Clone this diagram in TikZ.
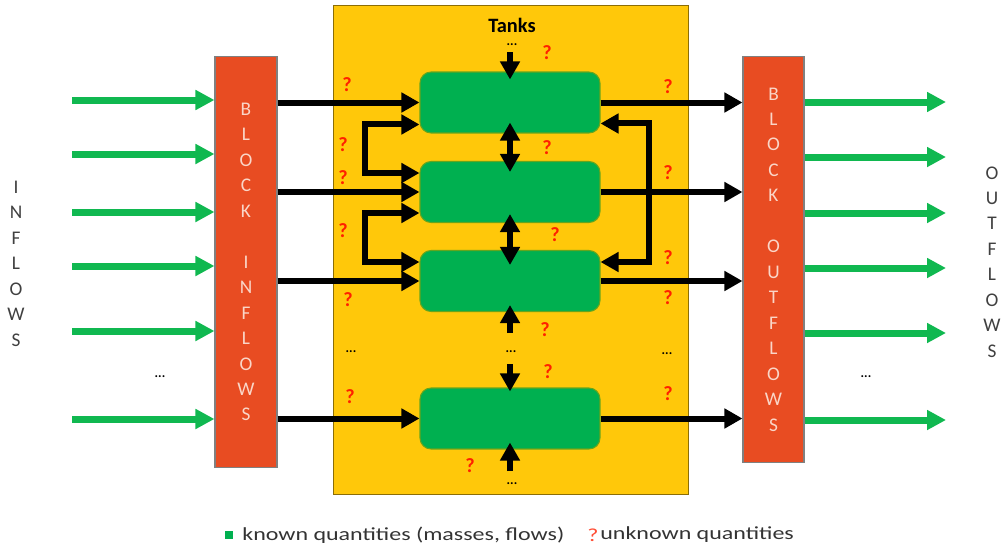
\documentclass[tikz,border=0pt]{standalone}
\usepackage{fontspec}
\setmainfont{Carlito}
\newfontfamily\legendfont[FakeStretch=1.3]{Carlito}
\usetikzlibrary{arrows.meta}
\definecolor{tankyellow}{RGB}{255,200,10}
\definecolor{tankgreen}{RGB}{0,176,80}
\definecolor{flowgreen}{RGB}{16,184,80}
\definecolor{blockred}{RGB}{232,76,34}
\definecolor{blocktext}{RGB}{250,214,200}
\definecolor{unkred}{RGB}{255,32,0}
\definecolor{sidegray}{RGB}{64,64,64}

\begin{document}
\begin{tikzpicture}[x=0.02cm, y=-0.02cm,
  area/.style={draw=black!45!tankyellow, line width=0.6pt, fill=tankyellow, minimum width=7.12cm, minimum height=9.8cm, inner sep=0},
  tank/.style={draw=black!40!tankgreen!60!yellow, line width=0.6pt, fill=tankgreen, rounded corners=0.22cm, minimum width=3.6cm, minimum height=1.22cm},
  block/.style={draw=gray, line width=0.6pt, fill=blockred, text=blocktext, align=center, inner sep=0, font=\fontsize{11}{14.5}\selectfont},
  side/.style={text=sidegray, align=center, inner sep=0, font=\fontsize{11}{14.5}\selectfont},
  unk/.style={text=unkred, inner sep=0, font=\fontsize{11.5}{12}\selectfont\bfseries},
  dots/.style={inner sep=0, font=\fontsize{7.5}{8}\selectfont\bfseries},
  legend/.style={text=black!80, inner sep=0, anchor=west, font=\fontsize{10.5}{12}\legendfont},
  flow/.style={line width=0.12cm, -{Triangle[length=0.36cm,width=0.38cm]}},
  swap/.style={line width=0.12cm, {Triangle[length=0.36cm,width=0.38cm]}-{Triangle[length=0.36cm,width=0.38cm]}},
  feed/.style={draw=flowgreen, line width=0.14cm, -{Triangle[length=0.38cm,width=0.38cm]}}
]
\useasboundingbox (0,0) rectangle (1001,551);

\node[area] (area) at (511,250) {};
\node[block, minimum width=1.24cm, minimum height=8.24cm] (inblock) at (246,262) {B\\L\\O\\C\\K\\~\\I\\N\\F\\L\\O\\W\\S};
\node[block, minimum width=1.22cm, minimum height=8.14cm] (outblock) at (773.5,259.5) {B\\L\\O\\C\\K\\~\\O\\U\\T\\F\\L\\O\\W\\S};

\node[tank] (tank1) at (510,102.5) {};
\node[tank] (tank2) at (510,192) {};
\node[tank] (tank3) at (510,281) {};
\node[tank] (tank4) at (510,418.5) {};

\node[inner sep=0, font=\fontsize{11.6}{12}\selectfont\bfseries] (tanks) at (512,25) {Tanks};
\node[side] (inflows) at (16,263.5) {I\\N\\F\\L\\O\\W\\S};
\node[side] (outflows) at (992,262) {O\\U\\T\\F\\L\\O\\W\\S};

\node[dots] (dtop) at (512,45) {...};
\node[dots] (dleft) at (351,352) {...};
\node[dots] (dmid) at (511,352) {...};
\node[dots] (dright) at (667,354) {...};
\node[dots] (dbot) at (512,484) {...};
\node[dots] (din) at (160,377) {...};
\node[dots] (dout) at (866,377) {...};

\coordinate (in1) at (72,100);
\coordinate (in2) at (72,154);
\coordinate (in3) at (72,212);
\coordinate (in4) at (72,266);
\coordinate (in5) at (72,331);
\coordinate (in6) at (72,419);
\draw[feed] (in1) -- (in1 -| inblock.west);
\draw[feed] (in2) -- (in2 -| inblock.west);
\draw[feed] (in3) -- (in3 -| inblock.west);
\draw[feed] (in4) -- (in4 -| inblock.west);
\draw[feed] (in5) -- (in5 -| inblock.west);
\draw[feed] (in6) -- (in6 -| inblock.west);

\coordinate (out1) at (946,102);
\coordinate (out2) at (946,157);
\coordinate (out3) at (946,213);
\coordinate (out4) at (946,268);
\coordinate (out5) at (946,333);
\coordinate (out6) at (946,420);
\draw[feed] (out1 -| outblock.east) -- (out1);
\draw[feed] (out2 -| outblock.east) -- (out2);
\draw[feed] (out3 -| outblock.east) -- (out3);
\draw[feed] (out4 -| outblock.east) -- (out4);
\draw[feed] (out5 -| outblock.east) -- (out5);
\draw[feed] (out6 -| outblock.east) -- (out6);

\draw[flow] (inblock.east |- tank1.west) -- (tank1.west);
\draw[flow] (inblock.east |- tank2.west) -- (tank2.west);
\draw[flow] (inblock.east |- tank3.west) -- (tank3.west);
\draw[flow] (inblock.east |- tank4.west) -- (tank4.west);
\draw[flow] (tank1.east) -- (outblock.west |- tank1.east);
\draw[flow] (tank2.east) -- (outblock.west |- tank2.east);
\draw[flow] (tank3.east) -- (outblock.west |- tank3.east);
\draw[flow] (tank4.east) -- (outblock.west |- tank4.east);

\draw[swap] ([yshift=-0.44cm]tank1.west) -- ++(-54,0) |- ([yshift=0.38cm]tank2.west);
\draw[swap] ([yshift=-0.42cm]tank2.west) -- ++(-54,0) |- ([yshift=0.38cm]tank3.west);
\draw[swap] ([yshift=-0.42cm]tank1.east) -- ++(48,0) |- ([yshift=0.38cm]tank3.east);

\coordinate (topin) at (510,52);
\coordinate (midup) at (510,333);
\coordinate (middown) at (510,364);
\coordinate (botin) at (510,471);
\draw[flow, shorten >=-0.16cm] (topin) -- (tank1.north);
\draw[swap, shorten <=-0.22cm, shorten >=-0.22cm] (tank1.south) -- (tank2.north);
\draw[swap, shorten <=-0.18cm, shorten >=-0.3cm] (tank2.south) -- (tank3.north);
\draw[flow, shorten >=-0.14cm] (midup) -- (tank3.south);
\draw[flow, shorten >=-0.08cm] (middown) -- (tank4.north);
\draw[flow, shorten >=-0.14cm] (botin) -- (tank4.south);

\node[unk] (q1) at (547,53) {?};
\node[unk] (q2) at (347,85) {?};
\node[unk] (q3) at (668,87) {?};
\node[unk] (q4) at (343,145) {?};
\node[unk] (q5) at (547,148) {?};
\node[unk] (q6) at (668,173) {?};
\node[unk] (q7) at (343,178) {?};
\node[unk] (q8) at (343,231) {?};
\node[unk] (q9) at (555,235) {?};
\node[unk] (q10) at (348,300) {?};
\node[unk] (q11) at (668,258) {?};
\node[unk] (q12) at (668,298) {?};
\node[unk] (q13) at (545,330) {?};
\node[unk] (q14) at (548,372) {?};
\node[unk] (q15) at (350,397) {?};
\node[unk] (q16) at (668,394) {?};
\node[unk] (q17) at (470,466) {?};

\node[fill=tankgreen, minimum size=0.15cm, inner sep=0] (knownkey) at (229,535) {};
\node[legend] (known) at (242,535) {known quantities (masses, flows)};
\node[legend, text=unkred!80] (unkkey) at (587,535) {?};
\node[legend] (unknown) at (600,535) {unknown quantities};
\end{tikzpicture}
\end{document}
